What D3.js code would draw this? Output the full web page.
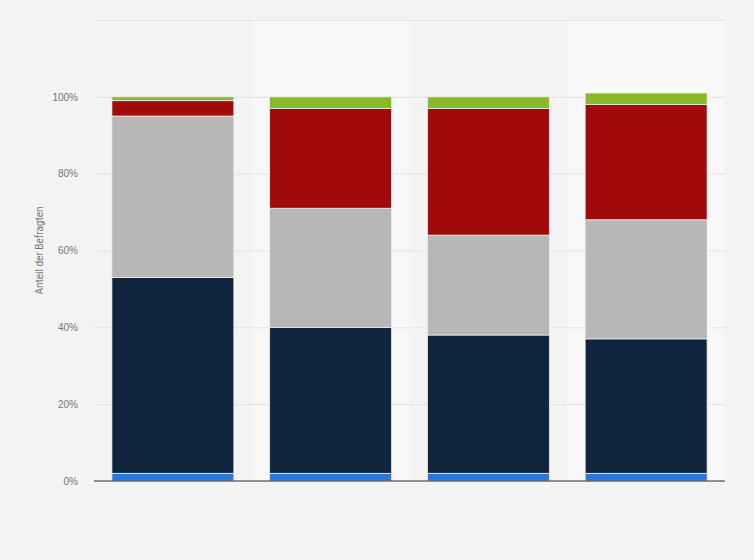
<!DOCTYPE html>
<html>
<head>
<meta charset="utf-8">
<script src="https://cdn.jsdelivr.net/npm/d3@7"></script>
<style>
  body { margin: 0; background: #f3f3f3; }
  svg { display: block; font-family: Roboto, "Liberation Sans", Arial, sans-serif; }
</style>
</head>
<body>
<svg id="chart" width="754" height="560"></svg>
<script>
// categories carry no visible labels in the chart
const categories = ['A', 'B', 'C', 'D'];
const seriesNames = ['s1', 's2', 's3', 's4', 's5'];
const seriesColors = ['#2a76dc', '#10263e', '#b7b7b7', '#a10a0a', '#89b926'];
// values per series, one per category (percent)
const s1 = [2, 2, 2, 2];
const s2 = [51, 38, 36, 35];
const s3 = [42, 31, 26, 31];
const s4 = [4, 26, 33, 30];
const s5 = [1, 3, 3, 3];
const yTicks = [0, 20, 40, 60, 80, 100, 120];

const svg = d3.select('#chart');
const margin = { top: 20, right: 29, bottom: 79, left: 94 };
const width = 754 - margin.left - margin.right;
const height = 560 - margin.top - margin.bottom;

const rows = categories.map((c, i) => ({
    cat: c, s1: s1[i], s2: s2[i], s3: s3[i], s4: s4[i], s5: s5[i]
}));
const stacked = d3.stack().keys(seriesNames)(rows);

const x = d3.scaleBand().domain(categories).range([0, width]).paddingInner(0.227).paddingOuter(0.1135);
const y = d3.scaleLinear().domain([0, 120]).range([height, 0]);
const color = d3.scaleOrdinal().domain(seriesNames).range(seriesColors);

const g = svg.append('g').attr('transform', `translate(${margin.left},${margin.top})`);

// alternating column bands
const step = x.step();
g.selectAll('rect.band')
    .data(categories)
    .join('rect')
    .attr('class', 'band')
    .attr('x', d => x(d) - x.paddingInner() * step / 2)
    .attr('y', 0)
    .attr('width', step)
    .attr('height', height)
    .attr('fill', (d, i) => i % 2 ? '#f8f8f8' : '#f3f3f3');

// grid lines + tick labels
const yAxis = d3.axisLeft(y).tickValues(yTicks).tickSize(-width).tickFormat(d => d === 120 ? '' : d + '%');
const ya = g.append('g').call(yAxis);
ya.select('.domain').remove();
ya.selectAll('.tick line')
    .attr('stroke', '#d2d2d2')
    .attr('stroke-dasharray', '1,1');
ya.selectAll('.tick text')
    .attr('x', -16)
    .attr('fill', '#777')
    .style('font-size', '10px');

// stacked bars
g.selectAll('g.series')
    .data(stacked)
    .join('g')
    .attr('class', 'series')
    .attr('fill', d => color(d.key))
    .selectAll('rect')
    .data(d => d)
    .join('rect')
    .attr('x', d => x(d.data.cat))
    .attr('y', d => y(d[1]))
    .attr('width', x.bandwidth())
    .attr('height', d => y(d[0]) - y(d[1]))
    .attr('stroke', '#ececec')
    .attr('stroke-width', 0.8);

// baseline
g.append('line')
    .attr('x1', 0).attr('x2', width)
    .attr('y1', y(0)).attr('y2', y(0))
    .attr('stroke', '#333')
    .attr('stroke-width', 1.2);

// y axis title
svg.append('text')
    .attr('transform', `translate(43,${margin.top + y(60)}) rotate(-90)`)
    .attr('text-anchor', 'middle')
    .attr('fill', '#777')
    .style('font-size', '10px')
    .text('Anteil der Befragten');
</script>
</body>
</html>
